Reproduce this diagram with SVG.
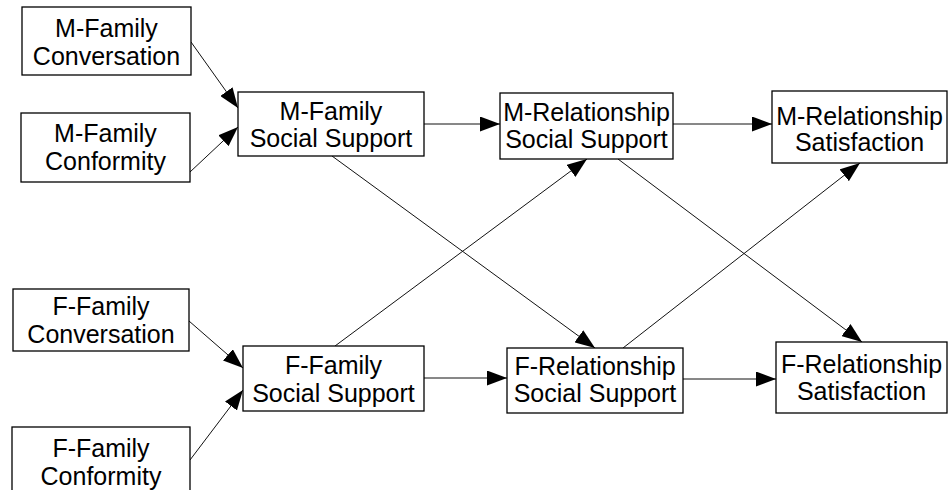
<svg xmlns="http://www.w3.org/2000/svg" width="948" height="490" viewBox="0 0 948 490">
<style>
.box{fill:#fff;stroke:#000;stroke-width:1.3}
.lbl{font-family:"Liberation Sans",Arial,sans-serif;font-size:25px;fill:#000;text-anchor:middle}
.edge{stroke:#111;stroke-width:1;fill:none;marker-end:url(#ah)}
</style>
<defs>
<marker id="ah" markerUnits="userSpaceOnUse" markerWidth="20" markerHeight="15" refX="20" refY="7.5" orient="auto">
<path d="M0,0 L20,7.5 L0,15 z" fill="#000"/>
</marker>
</defs>
<rect width="948" height="490" fill="#fff"/>
<g id="connectors">
<line class="edge" x1="191" y1="42" x2="238" y2="108"/>
<line class="edge" x1="190" y1="172" x2="238" y2="127"/>
<line class="edge" x1="424" y1="124" x2="500" y2="124"/>
<line class="edge" x1="673" y1="124" x2="772" y2="124"/>
<line class="edge" x1="332" y1="156" x2="595" y2="348"/>
<line class="edge" x1="618" y1="159" x2="862" y2="342"/>
<line class="edge" x1="335" y1="346" x2="587" y2="159"/>
<line class="edge" x1="623" y1="348" x2="860" y2="163"/>
<line class="edge" x1="189" y1="321" x2="243" y2="368"/>
<line class="edge" x1="190" y1="460" x2="243" y2="390"/>
<line class="edge" x1="424" y1="378" x2="507" y2="378"/>
<line class="edge" x1="683" y1="379" x2="776" y2="379"/>
</g>
<g id="m-family-conversation">
<rect class="box" x="22" y="7" width="169" height="68"/>
<text class="lbl" x="106.5" y="37">M-Family</text>
<text class="lbl" x="106.5" y="65">Conversation</text>
</g>
<g id="m-family-conformity">
<rect class="box" x="21" y="113" width="169" height="69"/>
<text class="lbl" x="105.5" y="142">M-Family</text>
<text class="lbl" x="105.5" y="170">Conformity</text>
</g>
<g id="m-family-social-support">
<rect class="box" x="238" y="92" width="186" height="64"/>
<text class="lbl" x="331" y="120">M-Family</text>
<text class="lbl" x="331" y="147">Social Support</text>
</g>
<g id="m-relationship-social-support">
<rect class="box" x="500" y="93" width="173" height="66"/>
<text class="lbl" x="586.5" y="121">M-Relationship</text>
<text class="lbl" x="586.5" y="148">Social Support</text>
</g>
<g id="m-relationship-satisfaction">
<rect class="box" x="772" y="91" width="175" height="72"/>
<text class="lbl" x="859.5" y="125">M-Relationship</text>
<text class="lbl" x="859.5" y="151">Satisfaction</text>
</g>
<g id="f-family-conversation">
<rect class="box" x="13" y="289" width="176" height="62"/>
<text class="lbl" x="101" y="315">F-Family</text>
<text class="lbl" x="101" y="343">Conversation</text>
</g>
<g id="f-family-conformity">
<rect class="box" x="12" y="427" width="178" height="70"/>
<text class="lbl" x="101" y="457">F-Family</text>
<text class="lbl" x="101" y="485">Conformity</text>
</g>
<g id="f-family-social-support">
<rect class="box" x="243" y="346" width="181" height="65"/>
<text class="lbl" x="333.5" y="374">F-Family</text>
<text class="lbl" x="333.5" y="402">Social Support</text>
</g>
<g id="f-relationship-social-support">
<rect class="box" x="507" y="348" width="176" height="65"/>
<text class="lbl" x="595" y="375">F-Relationship</text>
<text class="lbl" x="595" y="402">Social Support</text>
</g>
<g id="f-relationship-satisfaction">
<rect class="box" x="776" y="342" width="171" height="71"/>
<text class="lbl" x="861.5" y="373">F-Relationship</text>
<text class="lbl" x="861.5" y="400">Satisfaction</text>
</g>
</svg>
